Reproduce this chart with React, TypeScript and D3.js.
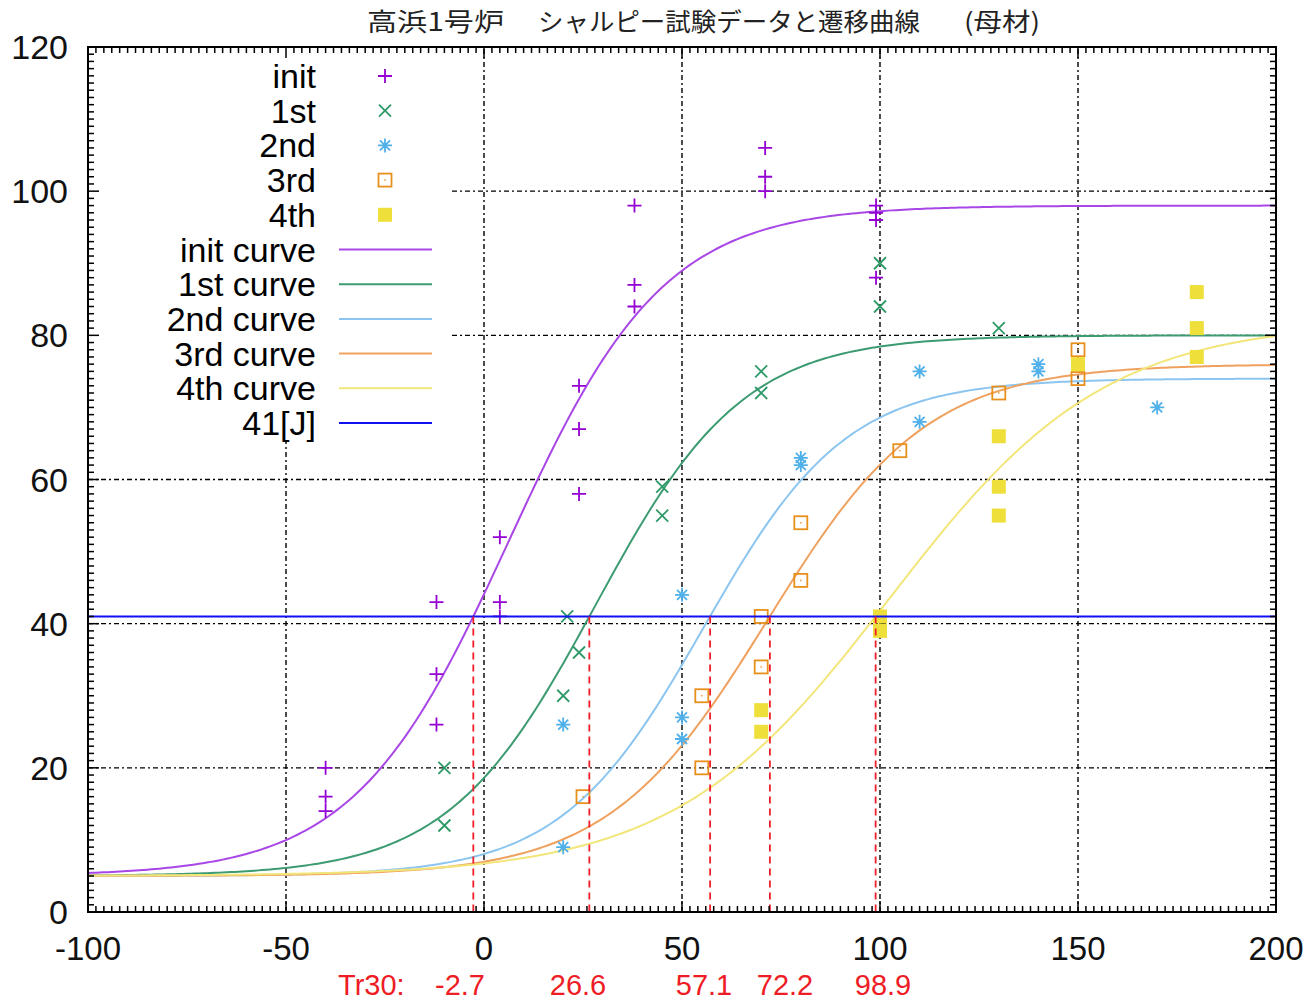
import React, { useEffect, useRef } from "react";
import * as d3 from "d3";

// chart data
const titleParts = ["高浜1号炉", "シャルピー試験データと遷移曲線", "(母材)"];

const xTicks = [-100, -50, 0, 50, 100, 150, 200];
const yTicks = [0, 20, 40, 60, 80, 100, 120];

const seriesNames = ["init", "1st", "2nd", "3rd", "4th"];

const initPoints: [number, number][] = [
  [-40, 20], [-40, 16], [-40, 14],
  [-12, 43], [-12, 33], [-12, 26],
  [4, 52], [4, 43], [4, 41],
  [24, 73], [24, 67], [24, 58],
  [38, 98], [38, 87], [38, 84],
  [71, 106], [71, 102], [71, 100],
  [99, 98], [99, 97], [99, 96], [99, 88],
];
const firstPoints: [number, number][] = [
  [-10, 20], [-10, 12],
  [21, 41], [24, 36], [20, 30],
  [45, 59], [45, 55],
  [70, 75], [70, 72],
  [100, 90], [100, 84],
  [130, 81],
];
const secondPoints: [number, number][] = [
  [20, 26], [20, 9],
  [50, 44], [50, 27], [50, 24],
  [80, 63], [80, 62],
  [110, 75], [110, 68],
  [140, 76], [140, 75],
  [170, 70],
];
const thirdPoints: [number, number][] = [
  [25, 16],
  [55, 30], [55, 20],
  [70, 41], [70, 34],
  [80, 54], [80, 46],
  [105, 64],
  [130, 72],
  [150, 78], [150, 74],
];
const fourthPoints: [number, number][] = [
  [70, 28], [70, 25],
  [100, 41], [100, 39],
  [130, 66], [130, 59], [130, 55],
  [150, 76],
  [180, 86], [180, 81], [180, 77],
];

// tanh transition curve fit: lower + (upper-lower)/2 * (1 + tanh((T - t0)/width))
const curveLower = [5, 5, 5, 5, 5];
const curveUpper = [98, 80, 74, 76, 82];
const curveT0 = [6.3, 28.1, 55.5, 71.6, 102.4];
const curveWidth = [39.2, 37.3, 36.1, 40.3, 54.4];

const refEnergy = 41;
const tr30 = [-2.7, 26.6, 57.1, 72.2, 98.9];

const pointColors = ["#9400d3", "#2e9a68", "#4fb0ea", "#e8901c", "#efdf3a"];
const curveColors = ["#a847e6", "#3d9b72", "#8cc6f0", "#efa15f", "#f2e67a"];

export default function App() {
  const ref = useRef<SVGSVGElement>(null);

  useEffect(() => {
    if (!ref.current) return;
    const width = 1316;
    const height = 1001;
    const margin = { left: 88, right: 40, top: 47, bottom: 89 };
    const font = "'Liberation Sans', Arial, Helvetica, sans-serif";

    const svg = d3.select(ref.current);
    svg.selectAll("*").remove();
    svg.attr("width", width).attr("height", height);

    const x = d3.scaleLinear().domain([-100, 200]).range([margin.left, width - margin.right]);
    const y = d3.scaleLinear().domain([0, 120]).range([height - margin.bottom, margin.top]);
    const [x0, x1] = x.range();
    const [yb, yt] = y.range();

    svg.append("rect").attr("width", width).attr("height", height).attr("fill", "#fff");

    // title
    const titleStarts = [367, 538, 964];
    const titleLens = [137, 382, 76];
    titleParts.forEach((t, i) => {
      svg
        .append("text")
        .attr("x", titleStarts[i])
        .attr("y", 31)
        .attr("font-family", "'Noto Sans CJK JP', sans-serif")
        .attr("font-size", 25)
        .attr("textLength", titleLens[i])
        .attr("lengthAdjust", "spacingAndGlyphs")
        .attr("fill", "#222")
        .text(t);
    });

    // grid
    const grid = svg.append("g").attr("stroke", "#000").attr("stroke-width", 1.4).attr("stroke-dasharray", "5,3,2,3");
    xTicks.slice(1, -1).forEach((v) => {
      grid.append("line").attr("x1", x(v)).attr("x2", x(v)).attr("y1", yb).attr("y2", yt);
    });
    yTicks.slice(1, -1).forEach((v) => {
      grid.append("line").attr("x1", x0).attr("x2", x1).attr("y1", y(v)).attr("y2", y(v));
    });

    // opaque key box
    svg.append("rect").attr("x", x0 + 1).attr("y", yt + 1).attr("width", 362).attr("height", 392).attr("fill", "#fff");

    svg.append("clipPath").attr("id", "plotclip").append("rect")
      .attr("x", x0).attr("y", yt).attr("width", x1 - x0).attr("height", yb - yt);

    // curves
    const temps = d3.range(-100, 200.5, 1);
    const line = d3.line<number>().x((t) => x(t));
    const curves = svg.append("g").attr("clip-path", "url(#plotclip)");
    curveLower.forEach((lo, i) => {
      const f = (t: number) =>
        lo + ((curveUpper[i] - lo) / 2) * (1 + Math.tanh((t - curveT0[i]) / curveWidth[i]));
      curves
        .append("path")
        .attr("d", line.y((t) => y(f(t)))(temps))
        .attr("fill", "none")
        .attr("stroke", curveColors[i])
        .attr("stroke-width", 2);
    });

    // markers
    const drawMarker = (g: any, kind: number, cx: number, cy: number) => {
      const c = pointColors[kind];
      if (kind === 0) {
        g.append("path").attr("d", `M${cx - 7},${cy}H${cx + 7}M${cx},${cy - 7}V${cy + 7}`)
          .attr("stroke", c).attr("stroke-width", 1.8).attr("fill", "none");
      } else if (kind === 1) {
        g.append("path").attr("d", `M${cx - 6},${cy - 6}L${cx + 6},${cy + 6}M${cx - 6},${cy + 6}L${cx + 6},${cy - 6}`)
          .attr("stroke", c).attr("stroke-width", 1.8).attr("fill", "none");
      } else if (kind === 2) {
        g.append("path")
          .attr("d", `M${cx - 7},${cy}H${cx + 7}M${cx},${cy - 7}V${cy + 7}M${cx - 5},${cy - 5}L${cx + 5},${cy + 5}M${cx - 5},${cy + 5}L${cx + 5},${cy - 5}`)
          .attr("stroke", c).attr("stroke-width", 1.8).attr("fill", "none");
      } else if (kind === 3) {
        g.append("rect").attr("x", cx - 6.5).attr("y", cy - 6.5).attr("width", 13).attr("height", 13)
          .attr("stroke", c).attr("stroke-width", 1.8).attr("fill", "none");
        g.append("rect").attr("x", cx - 0.7).attr("y", cy - 0.7).attr("width", 1.4).attr("height", 1.4).attr("fill", c);
      } else {
        g.append("rect").attr("x", cx - 7).attr("y", cy - 7).attr("width", 14).attr("height", 14).attr("fill", c);
      }
    };

    const allPoints = [initPoints, firstPoints, secondPoints, thirdPoints, fourthPoints];
    const pts = svg.append("g");
    allPoints.forEach((arr, k) => {
      arr.forEach(([t, e]) => drawMarker(pts, k, x(t), y(e)));
    });

    // 41 J reference line
    svg.append("line").attr("x1", x0).attr("x2", x1).attr("y1", y(refEnergy)).attr("y2", y(refEnergy))
      .attr("stroke", "#1010f0").attr("stroke-width", 2);

    // Tr30 drop lines
    tr30.forEach((v) => {
      svg.append("line").attr("x1", x(v)).attr("x2", x(v)).attr("y1", y(refEnergy)).attr("y2", yb)
        .attr("stroke", "#f0202a").attr("stroke-width", 1.8).attr("stroke-dasharray", "7,5");
    });

    // ticks on all four sides
    const ticks = svg.append("g").attr("stroke", "#000").attr("stroke-width", 1.5);
    d3.range(-100, 200.1, 2).forEach((v) => {
      const len = v % 50 === 0 ? 11 : 6;
      ticks.append("line").attr("x1", x(v)).attr("x2", x(v)).attr("y1", yb).attr("y2", yb - len);
      ticks.append("line").attr("x1", x(v)).attr("x2", x(v)).attr("y1", yt).attr("y2", yt + len);
    });
    d3.range(0, 120.1, 1).forEach((v) => {
      const len = v % 20 === 0 ? 11 : 6;
      ticks.append("line").attr("x1", x0).attr("x2", x0 + len).attr("y1", y(v)).attr("y2", y(v));
      ticks.append("line").attr("x1", x1).attr("x2", x1 - len).attr("y1", y(v)).attr("y2", y(v));
    });

    // border
    svg.append("rect").attr("x", x0).attr("y", yt).attr("width", x1 - x0).attr("height", yb - yt)
      .attr("fill", "none").attr("stroke", "#000").attr("stroke-width", 2);

    // tick labels
    xTicks.forEach((v) => {
      svg.append("text").attr("x", x(v)).attr("y", 960).attr("text-anchor", "middle")
        .attr("font-family", font).attr("font-size", 33).attr("fill", "#111").text(v);
    });
    yTicks.forEach((v) => {
      svg.append("text").attr("x", 68).attr("y", y(v) + 12).attr("text-anchor", "end")
        .attr("font-family", font).attr("font-size", 34).attr("fill", "#111").text(v);
    });

    // Tr30 labels
    const tr30LabelX = [460, 578, 704, 785, 883];
    svg.append("text").attr("x", 338).attr("y", 995).attr("font-family", font).attr("font-size", 29)
      .attr("fill", "#ee1c25").text("Tr30:");
    tr30.forEach((v, i) => {
      svg.append("text").attr("x", tr30LabelX[i]).attr("y", 995).attr("text-anchor", "middle")
        .attr("font-family", font).attr("font-size", 29).attr("fill", "#ee1c25").text(v.toFixed(1));
    });

    // legend
    const labels = [
      ...seriesNames,
      ...seriesNames.map((s) => `${s} curve`),
      "41[J]",
    ];
    const rowY = (i: number) => 76 + i * 34.7;
    const leg = svg.append("g");
    labels.forEach((lab, i) => {
      leg.append("text").attr("x", 316).attr("y", rowY(i) + 12).attr("text-anchor", "end")
        .attr("font-family", font).attr("font-size", 34).attr("fill", "#000").text(lab);
      if (i < 5) {
        drawMarker(leg, i, 385, rowY(i));
      } else {
        const col = i < 10 ? curveColors[i - 5] : "#1010f0";
        leg.append("line").attr("x1", 339).attr("x2", 432).attr("y1", rowY(i)).attr("y2", rowY(i))
          .attr("stroke", col).attr("stroke-width", 2);
      }
    });
  }, []);

  return (
    <div style={{ position: "absolute", left: 0, top: 0 }}>
      <svg ref={ref} style={{ display: "block" }} />
    </div>
  );
}
